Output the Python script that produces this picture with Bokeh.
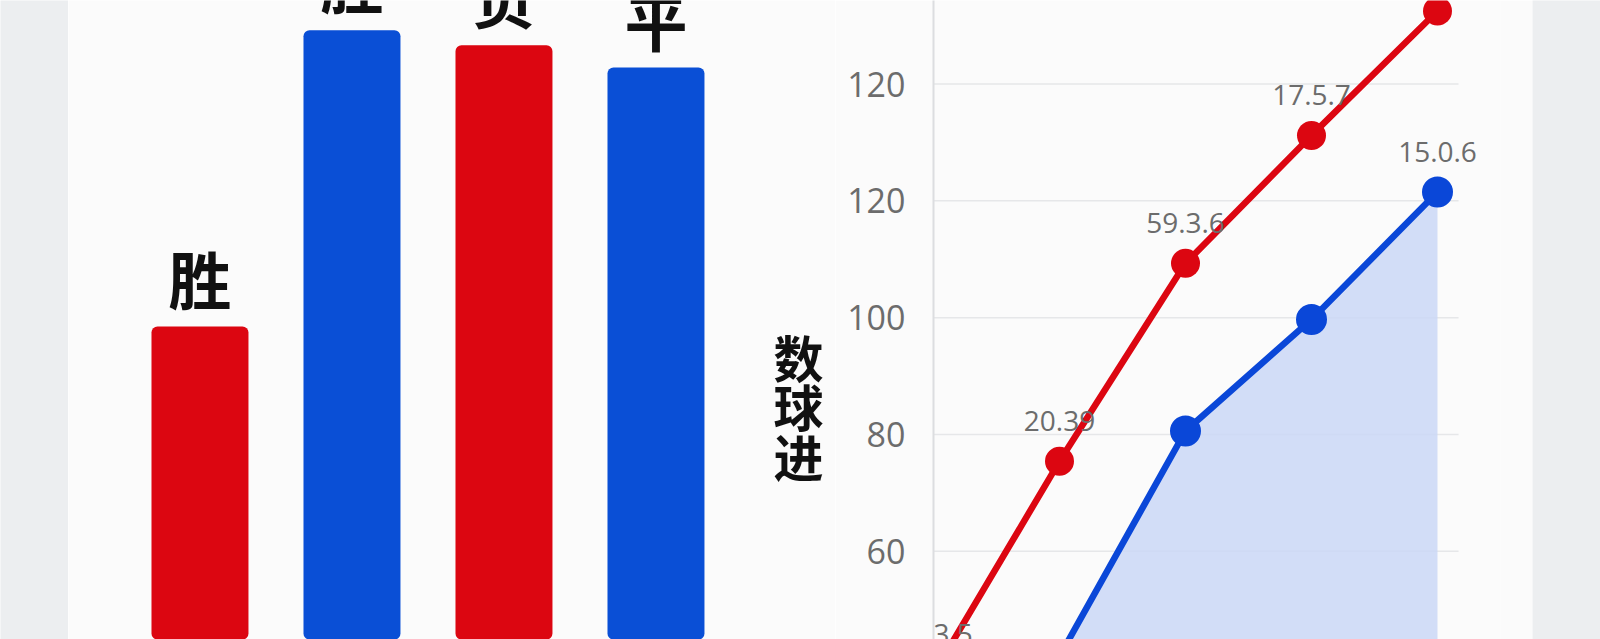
from bokeh.plotting import figure
from bokeh.layouts import row
from bokeh.models import Range1d, FixedTicker, ColumnDataSource, Label
from bokeh.embed import file_html
from bokeh.resources import INLINE
from bokeh.core.properties import value

# ---- data ----
bar_labels = ["胜", "胜", "负", "平"]
bar_values = [14.7, 28.6, 27.9, 26.85]
bar_colors = ["#dc0611", "#0a4fd6", "#dc0611", "#0a4fd6"]

line_x = [0, 1, 2, 3, 4]
red_values = [39.0, 75.4, 109.3, 131.2, 152.5]
blue_values = [20.0, 42.0, 80.6, 99.7, 121.5]
red_text = ["14.3.5", "20.39", "59.3.6", "17.5.7", ""]
blue_text = ["", "", "", "", "15.0.6"]
tick_values = [60, 80, 100, 120, 140]
tick_labels = ["60", "80", "100", "120", "120"]
y_title = "数\n球\n进"

RED = "#dc0611"
BLUE = "#0a47d8"
CARD = "#fbfbfb"
PAGE = "#eceef0"
H = 639

def blank(w):
    f = figure(width=w, height=H, toolbar_location=None, output_backend="svg",
               min_border=0, x_range=Range1d(0, 1), y_range=Range1d(0, 1))
    f.axis.visible = False
    f.grid.visible = False
    f.outline_line_color = None
    f.background_fill_color = PAGE
    f.border_fill_color = PAGE
    return f

left_gray = blank(68)
right_gray = blank(68)

# ---- bar panel ----
WA = 767
ppu = 152.0
xa0 = -0.865
pa = figure(width=WA, height=H, toolbar_location=None, output_backend="svg",
            min_border=0, x_range=Range1d(xa0, xa0 + WA / ppu), y_range=Range1d(0, 30))
pa.axis.visible = False
pa.grid.visible = False
pa.outline_line_color = None
pa.background_fill_color = CARD
pa.border_fill_color = CARD

src = ColumnDataSource(dict(x=list(range(len(bar_values))), top=bar_values,
                            color=bar_colors, lab=bar_labels))
pa.vbar(x="x", top="top", bottom=0, width=0.638, fill_color="color",
        line_color=None, source=src, border_radius=6)
pa.text(x="x", y="top", text="lab", source=src, text_align="center",
        text_baseline="bottom", y_offset=-4, text_font=value("Noto Sans CJK SC"),
        text_font_style="bold", text_font_size="63px", text_color="#111111")

# y title of the line panel (drawn at the right part of this canvas)
pa.add_layout(Label(x=xa0 + 730 / ppu, y=11.0, text=y_title,
                    text_align="center", text_baseline="middle",
                    text_font="Noto Sans CJK SC", text_font_style="bold",
                    text_font_size="50px", text_color="#111111",
                    text_line_height=0.69))

# ---- line panel ----
WB = 697
x_end = 4.5          # frame extends a little past the grid, so labels are not cut
grid_end = 4.167
pb = figure(width=WB, height=H, toolbar_location=None, output_backend="svg",
            min_border_left=98, min_border_right=32, min_border_top=0,
            min_border_bottom=0, x_range=Range1d(0, x_end),
            y_range=Range1d(44.9, 154.3))
pb.background_fill_color = CARD
pb.border_fill_color = CARD
pb.outline_line_color = None
pb.xaxis.visible = False
pb.grid.visible = False
pb.yaxis.ticker = FixedTicker(ticks=tick_values)
pb.yaxis.major_label_overrides = {t: l for t, l in zip(tick_values, tick_labels)}
pb.yaxis.major_tick_line_color = None
pb.yaxis.minor_tick_line_color = None
pb.yaxis.axis_line_color = "#dcdde0"
pb.yaxis.axis_line_width = 2
pb.yaxis.major_label_standoff = 22
pb.yaxis.major_label_text_font = "Open Sans"
pb.yaxis.major_label_text_font_size = "34px"
pb.yaxis.major_label_text_color = "#6c6c6c"

# horizontal grid lines at the tick values, ending before the frame edge
pb.segment(x0=[0] * len(tick_values), x1=[grid_end] * len(tick_values),
           y0=tick_values, y1=tick_values, line_color="#e6e7e9", line_width=1.5)

pb.varea(x=line_x, y1=[0] * len(line_x), y2=blue_values,
         fill_color="#cad7f6", fill_alpha=0.85)
pb.line(line_x, blue_values, line_color=BLUE, line_width=6.5)
pb.scatter(line_x, blue_values, size=31, fill_color=BLUE, line_color=None)
pb.line(line_x, red_values, line_color=RED, line_width=6.5)
pb.scatter(line_x, red_values, size=29, fill_color=RED, line_color=None)

pb.text(x=line_x, y=red_values, text=red_text, text_align="center",
        text_baseline="bottom", y_offset=-30, text_font=value("Open Sans"),
        text_font_size="28px", text_color="#6c6c6c")
pb.text(x=line_x, y=blue_values, text=blue_text, text_align="center",
        text_baseline="bottom", y_offset=-30, text_font=value("Open Sans"),
        text_font_size="28px", text_color="#6c6c6c")

p = row(left_gray, pa, pb, right_gray, spacing=0)
open("out.html", "w").write(file_html(p, INLINE))
